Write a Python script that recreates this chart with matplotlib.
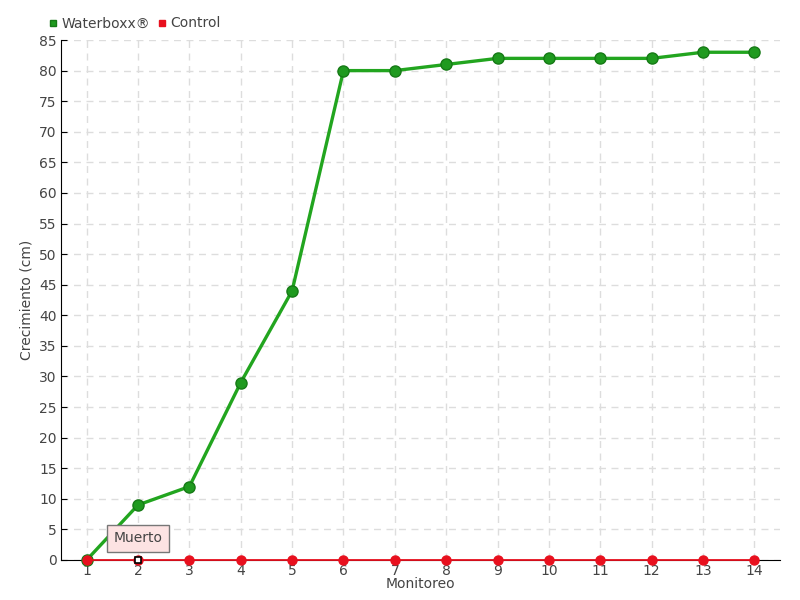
import matplotlib.pyplot as plt

# Data
monitoreo = list(range(1, 15))
waterboxx = [0, 9, 12, 29, 44, 80, 80, 81, 82, 82, 82, 82, 83, 83]
control = [0] * 14
yticks = list(range(0, 90, 5))

fig = plt.figure(figsize=(8, 6), dpi=100)
ax = fig.add_axes([0.07625, 0.0667, 0.89875, 0.8666])

text_color = "#444444"

# Series
ax.plot(monitoreo, waterboxx, color="#22a51f", lw=2.4, marker="o", ms=8,
        markerfacecolor="#1f9a1f", markeredgecolor="#167a16", markeredgewidth=1,
        zorder=4, label="Waterboxx®", clip_on=False)
ax.plot(monitoreo, control, color="#e8101e", lw=1.3, marker="o", ms=6.5,
        markerfacecolor="#e8101e", markeredgecolor="#e8101e",
        zorder=5, label="Control", clip_on=False)

# Hovered point
ax.plot([monitoreo[1]], [control[1]], marker="s", ms=5, markerfacecolor="white",
        markeredgecolor="black", markeredgewidth=1.2, zorder=7, clip_on=False)

# Tooltip
ax.annotate("Muerto", xy=(monitoreo[1], control[1]), xytext=(0, 15.5),
            textcoords="offset points", ha="center", va="center",
            fontsize=10, color=text_color, zorder=8,
            bbox=dict(boxstyle="square,pad=0.45", fc="#fde3e3", ec="#777777", lw=1))

ax.set_xlim(0.5, 14.5)
ax.set_ylim(0, 85)
ax.set_xticks(monitoreo)
ax.set_yticks(yticks)
ax.tick_params(axis="both", labelsize=10, colors=text_color, length=0, pad=3)
ax.tick_params(axis="y", length=4, direction="in", color="black")

ax.grid(True, color="#dddddd", linestyle=(0, (5, 4)), lw=1)
ax.set_axisbelow(True)

for s in ["top", "right"]:
    ax.spines[s].set_visible(False)
ax.spines["left"].set_color("black")
ax.spines["bottom"].set_color("black")

ax.set_xlabel("Monitoreo", fontsize=10, color=text_color, labelpad=-1)
ax.set_ylabel("Crecimiento (cm)", fontsize=10, color=text_color, labelpad=4)

leg = ax.legend(loc="lower left", bbox_to_anchor=(-0.027, 1.005), ncol=2, frameon=False,
                fontsize=10, handlelength=0.6, handletextpad=0.3, columnspacing=0.6,
                borderaxespad=0.1)
for h, c in zip(leg.legend_handles, ["#22a51f", "#e8101e"]):
    h.set_linestyle("")
    h.set_marker("s")
    h.set_markersize(5)
    h.set_color(c)
for t in leg.get_texts():
    t.set_color(text_color)

fig.savefig("out.png", dpi=100)
